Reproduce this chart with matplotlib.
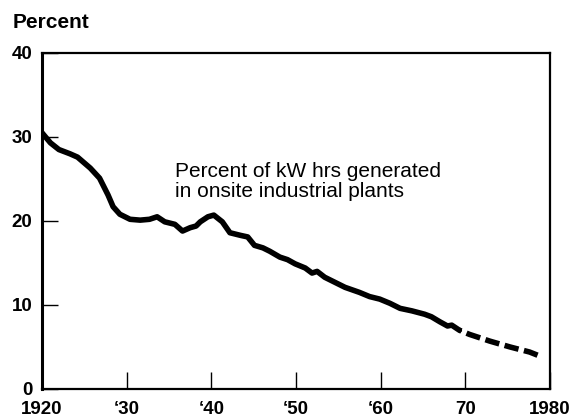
import matplotlib.pyplot as plt

plt.rcParams['font.family'] = ['Liberation Sans', 'DejaVu Sans']

# historical series (solid)
years = [1920, 1921, 1922, 1923.3, 1924.2, 1925.7, 1926.8, 1927.8, 1928.4, 1929.2,
         1930.4, 1931.6, 1932.7, 1933.6, 1934.5, 1935.7, 1936.6, 1937.5, 1938.2,
         1938.7, 1939.6, 1940.3, 1941.3, 1942.2, 1943.4, 1944.3, 1945.1, 1946.1,
         1946.9, 1948.1, 1949.0, 1949.9, 1951.1, 1951.9, 1952.5, 1953.4, 1954.6,
         1955.8, 1957.5, 1958.7, 1959.9, 1961.1, 1962.3, 1963.7, 1965.2, 1966.0,
         1967.0, 1967.9, 1968.4, 1969.3]
pct = [30.5, 29.3, 28.5, 28.0, 27.6, 26.3, 25.1, 23.1, 21.7, 20.8,
       20.2, 20.1, 20.2, 20.5, 19.9, 19.6, 18.8, 19.2, 19.4,
       19.9, 20.5, 20.7, 19.9, 18.6, 18.3, 18.1, 17.1, 16.8,
       16.4, 15.7, 15.4, 14.9, 14.4, 13.8, 14.0, 13.3, 12.7,
       12.1, 11.5, 11.0, 10.7, 10.2, 9.6, 9.3, 8.9, 8.6,
       8.0, 7.5, 7.6, 7.0]

# projection (dashed)
proj_years = [1969.3, 1970.5, 1972.9, 1975.3, 1977.6, 1978.6]
proj_pct = [7.0, 6.5, 5.7, 5.0, 4.4, 4.0]

xticks = [1920, 1930, 1940, 1950, 1960, 1970, 1980]
xlabels = ['1920', '\u201830', '\u201840', '\u201850', '\u201860', '70', '1980']
yticks = [0, 10, 20, 30, 40]

fig = plt.figure(figsize=(5.72, 4.19), dpi=100)
ax = fig.add_axes([0.0734, 0.0716, 0.888, 0.802])

ax.plot(years, pct, color='black', lw=4.0, solid_capstyle='round', solid_joinstyle='round')
ax.plot(proj_years, proj_pct, color='black', lw=4.0, linestyle=(2.2, (2.6, 1.0)))

ax.set_xlim(1920, 1980)
ax.set_ylim(0, 40)
ax.set_xticks(xticks)
ax.set_xticklabels(xlabels)
ax.set_yticks(yticks)

for s in ax.spines.values():
    s.set_linewidth(1.6)
ax.spines['left'].set_linewidth(2.2)

ax.tick_params(axis='both', direction='in', width=1.0, labelsize=13.5)
ax.tick_params(axis='x', length=12, pad=9)
ax.tick_params(axis='y', length=11.5, pad=7)
for lbl in ax.get_xticklabels() + ax.get_yticklabels():
    lbl.set_fontweight('bold')

ax.text(1935.7, 22.4, 'Percent of kW hrs generated\nin onsite industrial plants',
        fontsize=15, linespacing=1.05, va='bottom', ha='left')

fig.text(13 / 572, 1 - 22 / 419, 'Percent', fontsize=15, fontweight='bold',
         va='center', ha='left')

fig.savefig('out.png', dpi=100)
